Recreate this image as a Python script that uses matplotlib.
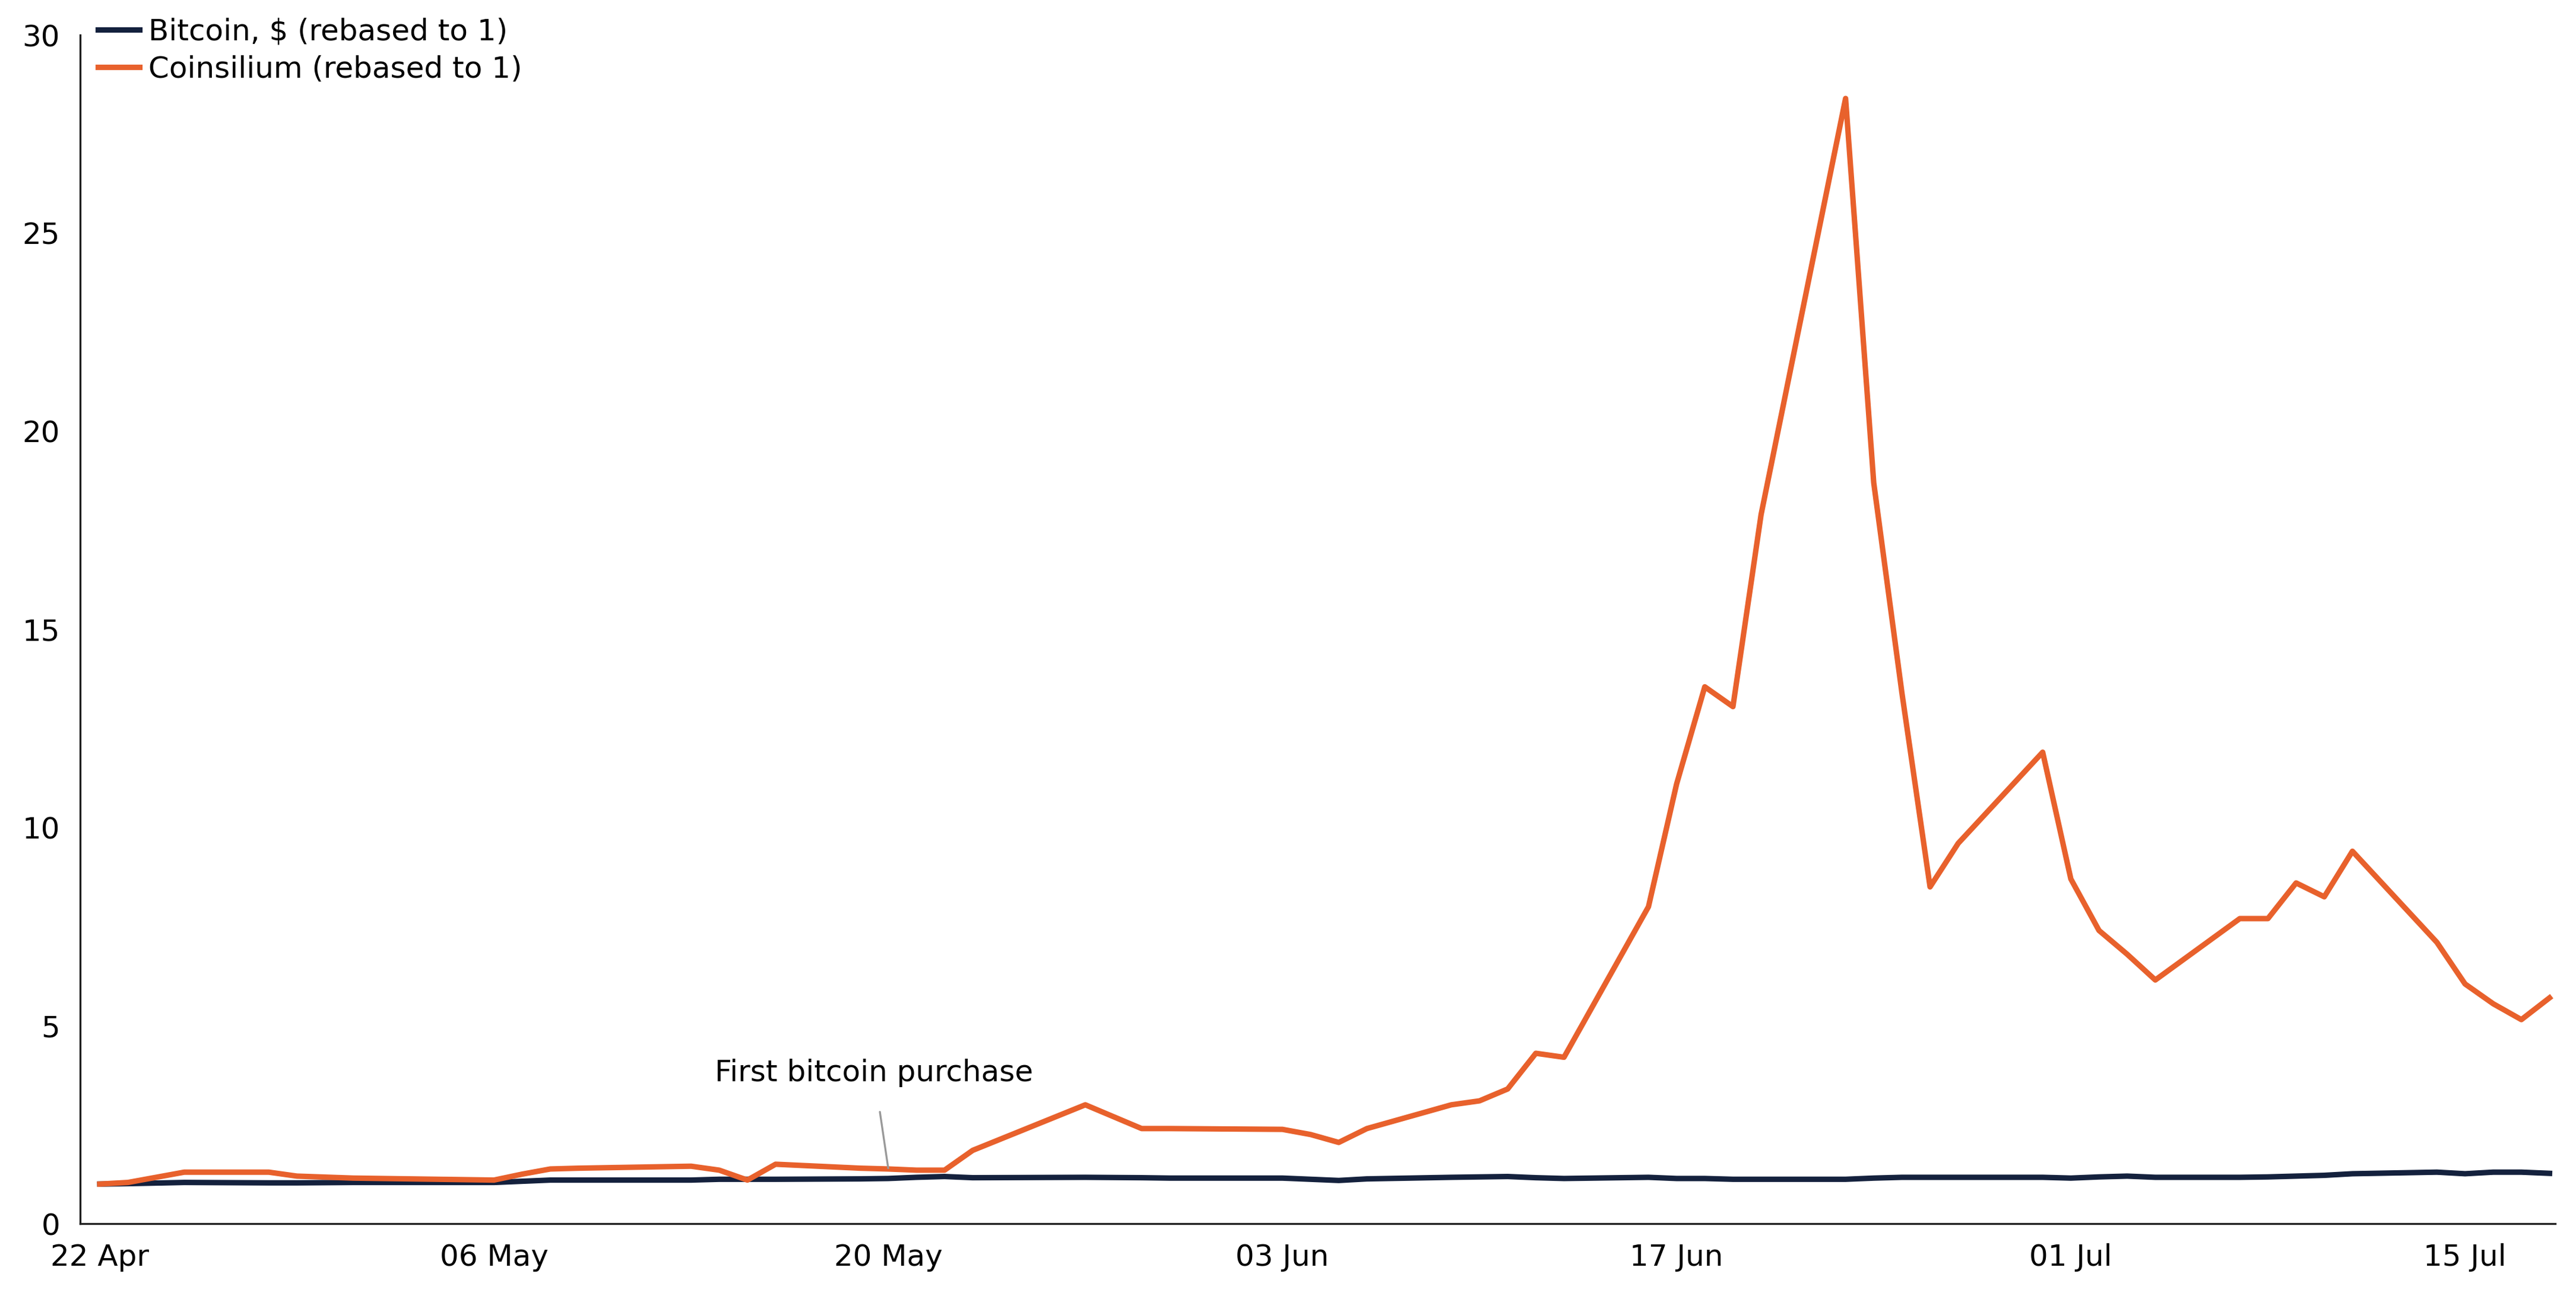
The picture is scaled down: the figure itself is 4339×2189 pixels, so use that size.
import numpy as np
import pandas as pd
import matplotlib
matplotlib.use("Agg")
import matplotlib.pyplot as plt
import matplotlib.dates as mdates

# trading days (2025)
dates = pd.to_datetime([
    "2025-04-22", "2025-04-23", "2025-04-25", "2025-04-28", "2025-04-29", "2025-05-01",
    "2025-05-06", "2025-05-07", "2025-05-08", "2025-05-09", "2025-05-13", "2025-05-14",
    "2025-05-15", "2025-05-16", "2025-05-19", "2025-05-20", "2025-05-21", "2025-05-22",
    "2025-05-23", "2025-05-27", "2025-05-29", "2025-05-30", "2025-06-03", "2025-06-04",
    "2025-06-05", "2025-06-06", "2025-06-09", "2025-06-10", "2025-06-11", "2025-06-12",
    "2025-06-13", "2025-06-16", "2025-06-17", "2025-06-18", "2025-06-19", "2025-06-20",
    "2025-06-23", "2025-06-24", "2025-06-25", "2025-06-26", "2025-06-27", "2025-06-30",
    "2025-07-01", "2025-07-02", "2025-07-03", "2025-07-04", "2025-07-07", "2025-07-08",
    "2025-07-09", "2025-07-10", "2025-07-11", "2025-07-14", "2025-07-15", "2025-07-16",
    "2025-07-17", "2025-07-18",
])

coinsilium = [
    1.0, 1.04, 1.3, 1.3, 1.2, 1.15, 1.1, 1.25, 1.38, 1.4, 1.45, 1.35,
    1.1, 1.5, 1.4, 1.38, 1.35, 1.35, 1.85, 3.0, 2.4, 2.4, 2.38, 2.25,
    2.05, 2.4, 3.0, 3.1, 3.4, 4.3, 4.2, 8.0, 11.1, 13.55, 13.05, 17.9,
    28.4, 18.7, 13.4, 8.5, 9.6, 11.9, 8.7, 7.4, 6.8, 6.15, 7.7, 7.7,
    8.6, 8.25, 9.4, 7.1, 6.05, 5.55, 5.15, 5.7,
]

bitcoin = [
    1.0, 1.01, 1.04, 1.03, 1.03, 1.04, 1.04, 1.07, 1.1, 1.1, 1.1, 1.12,
    1.12, 1.12, 1.13, 1.14, 1.17, 1.19, 1.16, 1.17, 1.16, 1.15, 1.15, 1.12,
    1.09, 1.13, 1.17, 1.18, 1.19, 1.16, 1.14, 1.17, 1.14, 1.14, 1.12, 1.12,
    1.12, 1.15, 1.17, 1.17, 1.17, 1.17, 1.15, 1.18, 1.2, 1.17, 1.17, 1.18,
    1.2, 1.22, 1.26, 1.3, 1.26, 1.3, 1.3, 1.27,
]

ORANGE = "#E8612C"
NAVY = "#14213D"

fig = plt.figure(figsize=(4339 / 300, 2189 / 300), dpi=300)
ax = fig.add_axes([0.031, 0.058, 0.961, 0.915])

ax.plot(dates, bitcoin, color=NAVY, lw=2.2, label="Bitcoin, $ (rebased to 1)")
ax.plot(dates, coinsilium, color=ORANGE, lw=2.2, label="Coinsilium (rebased to 1)")

ax.annotate("First bitcoin purchase", xy=(pd.Timestamp("2025-05-20"), 1.4),
            xytext=(pd.Timestamp("2025-05-19 12:00"), 3.8), ha="center", va="center",
            fontsize=12, color="black",
            arrowprops=dict(arrowstyle="-", color="#999999", lw=0.8,
                            shrinkA=8, shrinkB=0))

ax.set_ylim(0, 30)
ax.set_yticks(range(0, 31, 5))
ax.set_xlim(pd.Timestamp("2025-04-22") - pd.Timedelta(hours=17),
            pd.Timestamp("2025-07-18") + pd.Timedelta(hours=5))
ticks = pd.date_range("2025-04-22", "2025-07-15", freq="14D")
ax.set_xticks(ticks)
ax.xaxis.set_major_formatter(mdates.DateFormatter("%d %b"))

for s in ["top", "right"]:
    ax.spines[s].set_visible(False)
ax.spines["left"].set_color("#222222")
ax.spines["bottom"].set_color("#222222")
ax.tick_params(axis="both", labelsize=12, length=0, pad=8)

ax.legend(loc="upper left", bbox_to_anchor=(0.0, 1.03), frameon=False, fontsize=12,
          handlelength=1.4, handletextpad=0.3, labelspacing=0.3, borderaxespad=0.2)

fig.savefig("out.png", dpi=300)
